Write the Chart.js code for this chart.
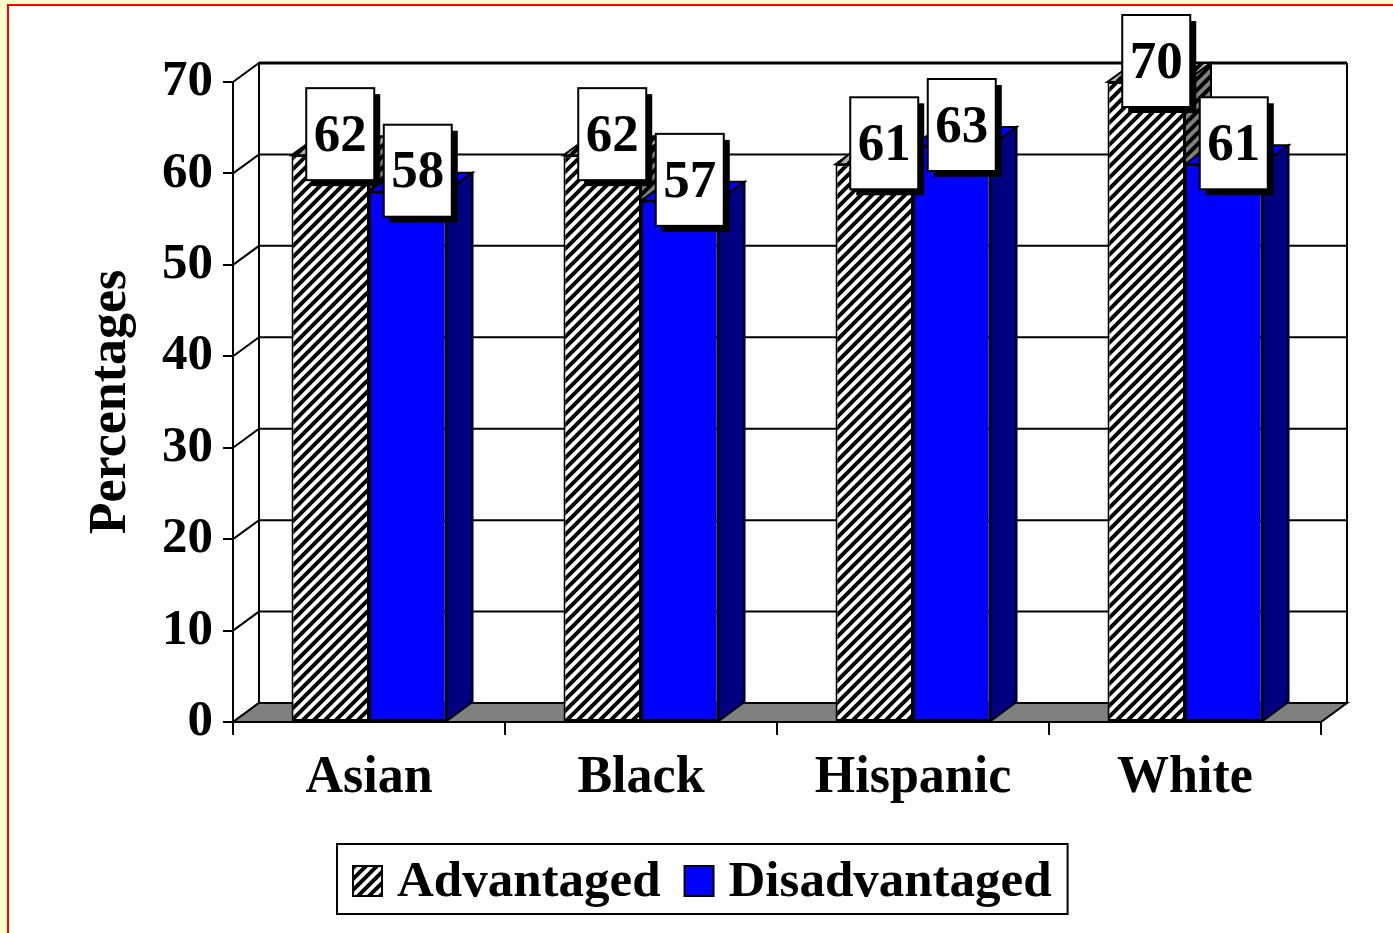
<!DOCTYPE html>
<html>
<head>
<meta charset="utf-8">
<title>Percentages by group</title>
<script src="https://cdn.jsdelivr.net/npm/chart.js@4.4.0/dist/chart.umd.min.js"></script>
<style>
  html, body { margin: 0; padding: 0; background: #FFFFCC; }
  canvas { display: block; }
</style>
</head>
<body>
<canvas id="chart" width="1393" height="933"></canvas>
<script>
const categories = ["Asian", "Black", "Hispanic", "White"]
const advantaged = [62, 62, 61, 70]
const disadvantaged = [58, 57, 63, 61]
const seriesNames = ["Advantaged", "Disadvantaged"]
const yMin = 0
const yMax = 70
const yStep = 10

const FONT = '"Liberation Serif", "Times New Roman", serif'
const DX = 26   // depth offset of the 3d box
const DY = -19

const ctx = document.getElementById("chart").getContext("2d")

// diagonal hatch like the old excel fill
function hatch(bg) {
  const s = 11
  const c = document.createElement("canvas")
  c.width = s
  c.height = s
  const g = c.getContext("2d")
  g.fillStyle = bg
  g.fillRect(0, 0, s, s)
  g.strokeStyle = "#000"
  g.lineWidth = 4
  g.beginPath()
  g.moveTo(-1, s + 1); g.lineTo(s + 1, -1)
  g.moveTo(-s / 2, s / 2); g.lineTo(s / 2, -s / 2)
  g.moveTo(s / 2, s * 1.5); g.lineTo(s * 1.5, s / 2)
  g.stroke()
  return ctx.createPattern(c, "repeat")
}

const frontHatch = hatch("#ffffff")
const topHatch = hatch("#b4b4b4")
const sideHatch = hatch("#808080")

const depthFill = [
  { top: topHatch, side: sideHatch },
  { top: "#0000ff", side: "#000080" },
]

function poly(c, pts, fill) {
  c.beginPath()
  c.moveTo(pts[0][0], pts[0][1])
  for (let i = 1; i < pts.length; i++) c.lineTo(pts[i][0], pts[i][1])
  c.closePath()
  c.fillStyle = fill
  c.fill()
  c.stroke()
}

const box3d = {
  id: "box3d",
  beforeDraw(chart) {
    const c = chart.ctx
    const { left, right, top, bottom } = chart.chartArea
    const y = chart.scales.y
    c.save()
    // page frame
    c.fillStyle = "#FFFFCC"
    c.fillRect(0, 0, chart.width, chart.height)
    c.fillStyle = "#ffffff"
    c.fillRect(8, 5, chart.width, chart.height)
    c.strokeStyle = "#ff0000"
    c.lineWidth = 2
    c.beginPath()
    c.moveTo(8, chart.height); c.lineTo(8, 5); c.lineTo(chart.width, 5)
    c.stroke()

    c.strokeStyle = "#000"
    c.lineWidth = 2
    // back wall
    c.fillStyle = "#fff"
    c.fillRect(left + DX, top + DY, right - left, bottom - top)
    c.beginPath()
    y.ticks.forEach(t => {
      const py = y.getPixelForValue(t.value)
      c.moveTo(left, py)
      c.lineTo(left + DX, py + DY)
      c.lineTo(right + DX, py + DY)
    })
    c.moveTo(left + DX, top + DY); c.lineTo(left + DX, bottom + DY)
    c.moveTo(right + DX, top + DY); c.lineTo(right + DX, bottom + DY)
    c.stroke()
    c.lineWidth = 3
    c.beginPath()
    c.moveTo(left + DX, top + DY); c.lineTo(right + DX, top + DY)
    c.stroke()
    // floor
    c.lineWidth = 2
    poly(c, [[left, bottom], [right, bottom], [right + DX, bottom + DY], [left + DX, bottom + DY]], "#808080")
    c.restore()
  },
  beforeDatasetsDraw(chart) {
    const c = chart.ctx
    c.save()
    c.strokeStyle = "#000"
    c.lineWidth = 2
    c.lineJoin = "miter"
    categories.forEach((_, i) => {
      chart.data.datasets.forEach((ds, d) => {
        const bar = chart.getDatasetMeta(d).data[i]
        const x0 = bar.x - bar.width / 2
        const x1 = bar.x + bar.width / 2
        const yt = bar.y
        const yb = bar.base
        poly(c, [[x0, yt], [x1, yt], [x1 + DX, yt + DY], [x0 + DX, yt + DY]], depthFill[d].top)
        poly(c, [[x1, yt], [x1 + DX, yt + DY], [x1 + DX, yb + DY], [x1, yb]], depthFill[d].side)
      })
    })
    c.restore()
  },
  afterDatasetsDraw(chart) {
    const c = chart.ctx
    c.save()
    c.font = "bold 53px " + FONT
    c.textAlign = "center"
    c.textBaseline = "middle"
    chart.data.datasets.forEach((ds, d) => {
      chart.getDatasetMeta(d).data.forEach((bar, i) => {
        const w = 68, h = 92
        const cx = bar.x + 10
        const bx = cx - w / 2
        const by = bar.y + 25 - h
        c.fillStyle = "#000"
        c.fillRect(bx + 6, by + 6, w, h)
        c.fillStyle = "#fff"
        c.fillRect(bx, by, w, h)
        c.strokeStyle = "#000"
        c.lineWidth = 2
        c.strokeRect(bx, by, w, h)
        c.fillStyle = "#000"
        c.fillText(String(ds.data[i]), cx, by + h / 2 + 3)
      })
    })
    c.restore()
  },
  afterDraw(chart) {
    // legend box at the bottom
    const c = chart.ctx
    c.save()
    c.font = "bold 51px " + FONT
    c.textBaseline = "middle"
    c.textAlign = "left"
    const top = 844, h = 70, mid = 883
    let x = 353
    const items = []
    chart.data.datasets.forEach(ds => {
      const tw = c.measureText(ds.label).width
      items.push({ x: x, label: ds.label, fill: ds.backgroundColor })
      x += 44 + tw + 24
    })
    const right = x - 24 + 16
    c.fillStyle = "#fff"
    c.fillRect(337, top, right - 337, h)
    c.strokeStyle = "#000"
    c.lineWidth = 2
    c.strokeRect(337, top, right - 337, h)
    items.forEach(it => {
      c.fillStyle = it.fill
      c.fillRect(it.x, 866, 29, 30)
      c.strokeRect(it.x, 866, 29, 30)
      c.fillStyle = "#000"
      c.fillText(it.label, it.x + 44, mid)
    })
    c.restore()
  },
}

new Chart(ctx, {
  type: "bar",
  data: {
    labels: categories,
    datasets: [
      {
        label: seriesNames[0],
        data: advantaged,
        backgroundColor: frontHatch,
        borderColor: "#000",
        borderWidth: 2,
        borderSkipped: false,
      },
      {
        label: seriesNames[1],
        data: disadvantaged,
        backgroundColor: "#0000ff",
        borderColor: "#000",
        borderWidth: 2,
        borderSkipped: false,
      },
    ],
  },
  options: {
    responsive: false,
    animation: false,
    devicePixelRatio: 1,
    categoryPercentage: 0.57,
    barPercentage: 1,
    layout: { padding: { left: 0, top: 82, right: 72, bottom: 0 } },
    plugins: {
      legend: { display: false },
      tooltip: { enabled: false },
    },
    scales: {
      x: {
        grid: { drawOnChartArea: false, drawTicks: true, tickLength: 13, color: "#000", lineWidth: 2 },
        border: { display: true, color: "#000", width: 2 },
        ticks: { color: "#000", padding: 12, font: { family: FONT, size: 52, weight: "bold" } },
        afterFit(s) { s.height = 211 },
      },
      y: {
        min: yMin,
        max: yMax,
        ticks: { stepSize: yStep, color: "#000", padding: 10, font: { family: FONT, size: 51, weight: "bold" } },
        grid: { drawOnChartArea: false, drawTicks: true, tickLength: 10, color: "#000", lineWidth: 2 },
        border: { display: true, color: "#000", width: 2 },
        title: {
          display: true,
          text: "Percentages",
          color: "#000",
          padding: { top: 80, bottom: 0 },
          font: { family: FONT, size: 52, weight: "bold" },
        },
        afterFit(s) { s.width = 233 },
      },
    },
  },
  plugins: [box3d],
})
</script>
</body>
</html>
